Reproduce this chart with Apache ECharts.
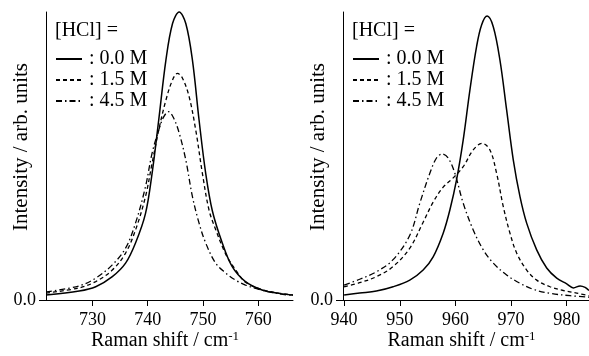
<!DOCTYPE html>
<html>
<head>
<meta charset="utf-8">
<script src="https://cdn.jsdelivr.net/npm/echarts@6/dist/echarts.min.js"></script>
<style>
html,body{margin:0;padding:0;background:#fff;}
#chart{width:589px;height:356px;}
</style>
</head>
<body>
<div id="chart"></div>
<script>
// ---- data ----
var seriesNames = ['0.0 M', '1.5 M', '4.5 M'];
var legendTitle = '[HCl] =';
var leftTicks = [730, 740, 750, 760];
var rightTicks = [940, 950, 960, 970, 980];
var yTicks = [0];

// Left panel (x in cm-1, y in arb. units)
var left00 = [[721.6,0.017],[727.6,0.031],[730.6,0.046],[733.6,0.081],[736.0,0.128],[737.8,0.198],[739.6,0.30],[740.8,0.44],[742.0,0.625],[743.3,0.833],[744.5,0.96],[745.7,1.0],[746.9,0.96],[748.1,0.833],[749.3,0.625],[750.5,0.44],[751.7,0.31],[753.5,0.198],[755.3,0.116],[757.7,0.064],[760.7,0.035],[763.7,0.023],[766.3,0.017]];
var left15 = [[721.6,0.024],[727.6,0.042],[730.6,0.064],[733.6,0.104],[736.0,0.163],[737.8,0.243],[739.6,0.359],[740.8,0.475],[742.0,0.59],[743.3,0.694],[744.5,0.764],[745.4,0.787],[746.3,0.77],[747.5,0.706],[748.7,0.59],[749.9,0.44],[751.1,0.3125],[752.3,0.245],[754.1,0.16],[755.9,0.105],[757.7,0.062],[760.7,0.036],[763.7,0.024],[766.3,0.017]];
var left45 = [[721.6,0.028],[727.6,0.049],[730.6,0.076],[733.6,0.122],[736.0,0.18],[737.8,0.267],[739.6,0.393],[740.8,0.51],[742.0,0.59],[742.9,0.636],[743.8,0.654],[744.7,0.632],[745.7,0.58],[746.9,0.486],[748.1,0.359],[749.3,0.267],[750.5,0.198],[752.3,0.128],[754.1,0.094],[755.9,0.069],[757.7,0.052],[760.7,0.034],[763.7,0.022],[766.3,0.015]];

// Right panel
var right00 = [[940,0.017],[942.8,0.024],[945.8,0.031],[948.8,0.046],[951.8,0.069],[954.2,0.104],[956.0,0.15],[957.8,0.232],[959.0,0.3125],[960.2,0.417],[961.4,0.556],[962.6,0.729],[963.8,0.88],[964.7,0.955],[965.7,0.986],[966.8,0.949],[968.0,0.833],[969.2,0.66],[970.4,0.486],[971.6,0.359],[972.8,0.267],[974.6,0.174],[976.4,0.111],[978.2,0.076],[980.0,0.056],[981.2,0.042],[982.4,0.049],[983.3,0.044],[984.0,0.033]];
var right15 = [[940,0.046],[942.8,0.06],[945.8,0.081],[948.8,0.116],[951.8,0.18],[954.2,0.27],[956.0,0.34],[957.8,0.392],[959.6,0.424],[961.4,0.463],[963.2,0.521],[964.8,0.544],[966.2,0.521],[967.4,0.44],[968.6,0.324],[969.8,0.232],[971.0,0.163],[972.8,0.104],[974.6,0.069],[977.0,0.046],[979.4,0.033],[981.8,0.024],[984.0,0.015]];
var right45 = [[940,0.052],[942.8,0.072],[945.8,0.098],[948.8,0.14],[951.8,0.225],[953.6,0.336],[955.4,0.44],[956.6,0.493],[957.6,0.507],[958.7,0.493],[959.9,0.44],[961.4,0.336],[963.2,0.243],[965.0,0.174],[966.8,0.128],[969.2,0.087],[971.6,0.058],[974.0,0.037],[977.0,0.023],[980.6,0.015],[984.0,0.01]];

// ---- chart ----
var FONT = '"Liberation Serif", "Times New Roman", serif';
var styles = [
  {type: 'solid', width: 1.5},
  {type: [4, 3], width: 1.3},
  {type: [6, 3, 1.5, 3], width: 1.3}
];

function xAxisDef(idx, min, max, ticks) {
  return {
    type: 'value', gridIndex: idx, min: min, max: max,
    axisLine: {show: true, onZero: false, lineStyle: {color: '#000', width: 1}},
    axisTick: {show: true, customValues: ticks, length: 6, lineStyle: {color: '#000', width: 1}},
    axisLabel: {show: true, customValues: ticks, fontSize: 18, fontFamily: FONT, color: '#000', margin: 11},
    splitLine: {show: false},
    name: 'Raman shift / cm{sup|-1}',
    nameLocation: 'middle', nameGap: 30, nameMoveOverlap: false,
    nameTextStyle: {
      fontSize: 20, fontFamily: FONT, color: '#000', padding: [0, 9, 0, 0],
      rich: {sup: {fontSize: 13, fontFamily: FONT, color: '#000', verticalAlign: 'top', padding: [0, 0, 8, 0]}}
    }
  };
}
function yAxisDef(idx) {
  return {
    type: 'value', gridIndex: idx, min: 0, max: 1.0,
    axisLine: {show: true, lineStyle: {color: '#000', width: 1}},
    axisTick: {show: true, customValues: yTicks, length: 7, lineStyle: {color: '#000', width: 1}},
    axisLabel: {show: true, customValues: yTicks, fontSize: 18, fontFamily: FONT, color: '#000', margin: 10,
      formatter: function (v) { return v.toFixed(1); }},
    splitLine: {show: false},
    name: 'Intensity / arb. units',
    nameLocation: 'middle', nameGap: 14, nameRotate: 90, nameMoveOverlap: false,
    nameTextStyle: {fontSize: 21, fontFamily: FONT, color: '#000', padding: [0, 0, 0, 18]}
  };
}
function mkSeries(name, data, idx, s) {
  return {
    name: name, type: 'line', xAxisIndex: idx, yAxisIndex: idx,
    data: data, symbol: 'none', showSymbol: false, smooth: 0.35,
    clip: false, animation: false,
    itemStyle: {color: '#000'},
    lineStyle: {color: '#000', width: s.width, type: s.type}
  };
}
var leftData = [left00, left15, left45];
var rightData = [right00, right15, right45];
var series = [];
for (var i = 0; i < 3; i++) series.push(mkSeries(seriesNames[i], leftData[i], 0, styles[i]));
for (var i = 0; i < 3; i++) series.push(mkSeries(seriesNames[i], rightData[i], 1, styles[i]));

function legendDef(left) {
  return {
    orient: 'vertical', left: left, top: 49, itemWidth: 26, itemHeight: 14, itemGap: 1,
    padding: 0, selectedMode: false,
    data: seriesNames,
    itemStyle: {color: 'rgba(0,0,0,0)', borderColor: 'rgba(0,0,0,0)', borderWidth: 0, opacity: 0},
    formatter: function (n) { return ': ' + n; },
    textStyle: {fontSize: 20, fontFamily: FONT, color: '#000', padding: [0, 0, 0, 2]}
  };
}

var chart = echarts.init(document.getElementById('chart'), null, {renderer: 'canvas'});
chart.setOption({
  backgroundColor: '#fff',
  animation: false,
  title: [
    {text: legendTitle, left: 55, top: 21, padding: 0, textStyle: {fontSize: 20, fontWeight: 'normal', fontFamily: FONT, color: '#000'}},
    {text: legendTitle, left: 352, top: 21, padding: 0, textStyle: {fontSize: 20, fontWeight: 'normal', fontFamily: FONT, color: '#000'}}
  ],
  legend: [legendDef(55), legendDef(352)],
  grid: [
    {left: 46, right: 296, top: 12, bottom: 56, outerBoundsMode: 'none'},
    {left: 343, right: 0, top: 12, bottom: 56, outerBoundsMode: 'none'}
  ],
  xAxis: [xAxisDef(0, 721.6, 766.3, leftTicks), xAxisDef(1, 939.8, 984, rightTicks)],
  yAxis: [yAxisDef(0), yAxisDef(1)],
  series: series
});
</script>
</body>
</html>
